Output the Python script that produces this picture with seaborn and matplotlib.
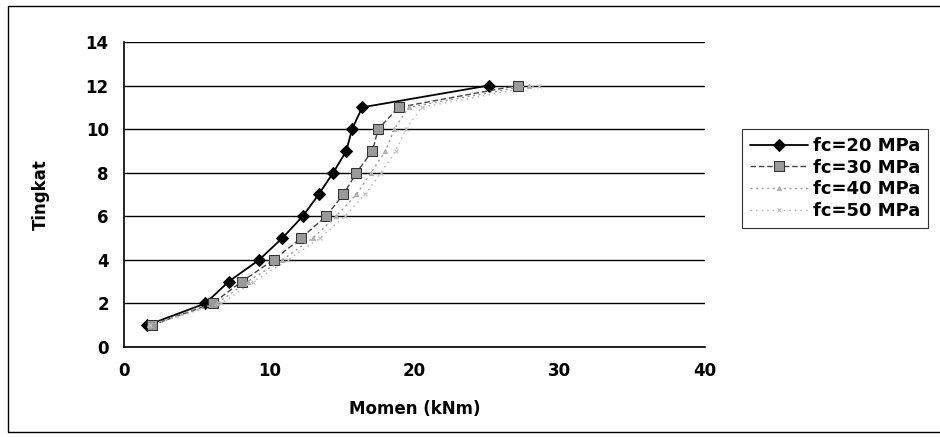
import matplotlib
matplotlib.use("Agg")
import matplotlib.pyplot as plt
import seaborn as sns
import pandas as pd
from matplotlib.patches import Rectangle

# ---- data ----
levels = [1, 2, 3, 4, 5, 6, 7, 8, 9, 10, 11, 12]
fc20 = [1.6, 5.6, 7.2, 9.3, 10.9, 12.3, 13.4, 14.4, 15.3, 15.7, 16.4, 25.1]
fc30 = [1.9, 6.1, 8.1, 10.3, 12.2, 13.9, 15.1, 16.0, 17.1, 17.5, 18.9, 27.1]
fc40 = [1.7, 6.4, 8.5, 10.9, 13.0, 14.6, 16.0, 17.0, 18.0, 18.6, 19.6, 27.9]
fc50 = [1.8, 6.7, 8.9, 11.3, 13.5, 15.2, 16.6, 17.7, 18.7, 19.4, 20.5, 28.6]
series_names = ["fc=20 MPa", "fc=30 MPa", "fc=40 MPa", "fc=50 MPa"]
x_ticks = [0, 10, 20, 30, 40]
y_ticks = [0, 2, 4, 6, 8, 10, 12, 14]

frames = []
for name, vals in zip(series_names, [fc20, fc30, fc40, fc50]):
    frames.append(pd.DataFrame({"Momen": vals, "Tingkat": levels, "Seri": name}))
df = pd.concat(frames, ignore_index=True)

sns.set_theme(style="white")
plt.rcParams["font.family"] = ["DejaVu Sans"]
plt.rcParams["text.color"] = "black"
plt.rcParams["axes.labelcolor"] = "black"
plt.rcParams["xtick.color"] = "black"
plt.rcParams["ytick.color"] = "black"

fig = plt.figure(figsize=(9.40, 4.37), dpi=100)
ax = fig.add_axes([0.132, 0.206, 0.618, 0.698])

styles = {
    "fc=20 MPa": dict(color="black", ls="-", lw=1.3, marker="D", ms=6,
                      mfc="black", mec="black"),
    "fc=30 MPa": dict(color="#444444", ls=(0, (4, 2)), lw=1.0, marker="s", ms=7,
                      mfc="#9a9a9a", mec="#333333"),
    "fc=40 MPa": dict(color="#9a9a9a", ls=(0, (1.5, 2.5)), lw=1.0, marker="^", ms=3,
                      mfc="#b0b0b0", mec="#b0b0b0"),
    "fc=50 MPa": dict(color="#b0b0b0", ls=(0, (1, 3)), lw=1.0, marker="x", ms=3,
                      mfc="#c0c0c0", mec="#c0c0c0"),
}

for name in series_names:
    st = styles[name]
    sub = df[df["Seri"] == name]
    sns.lineplot(data=sub, x="Momen", y="Tingkat", ax=ax, sort=False,
                 estimator=None, label=name, color=st["color"],
                 linestyle=st["ls"], linewidth=st["lw"], marker=st["marker"],
                 markersize=st["ms"], markerfacecolor=st["mfc"],
                 markeredgecolor=st["mec"], zorder=3)

ax.set_xlim(0, 40)
ax.set_ylim(0, 14)
ax.set_xticks(x_ticks)
ax.set_yticks(y_ticks)
ax.yaxis.grid(True, color="black", linewidth=1.0)
ax.xaxis.grid(False)
ax.set_axisbelow(True)
for s in ["top", "right"]:
    ax.spines[s].set_visible(False)
for s in ["left", "bottom"]:
    ax.spines[s].set_visible(True)
    ax.spines[s].set_color("black")
    ax.spines[s].set_linewidth(1.2)
ax.tick_params(axis="both", direction="inout", length=6, width=1, color="black",
               labelcolor="black", labelsize=12, pad=8)
for lab in ax.get_xticklabels() + ax.get_yticklabels():
    lab.set_fontweight("bold")

ax.set_xlabel("Momen (kNm)", fontsize=12, fontweight="bold", labelpad=14,
              color="black")
ax.set_ylabel("Tingkat", fontsize=12, fontweight="bold", labelpad=26,
              color="black")

leg = ax.legend(loc="upper left", bbox_to_anchor=(0.789, 0.705),
                bbox_transform=fig.transFigure, frameon=True, fancybox=False,
                shadow=False, fontsize=13, handlelength=3.2,
                handletextpad=0.3, labelspacing=0.2, borderpad=0.45,
                borderaxespad=0)
leg.get_frame().set_edgecolor("black")
leg.get_frame().set_linewidth(0.8)
for t in leg.get_texts():
    t.set_fontweight("bold")
    t.set_color("black")

fig.patches.append(Rectangle((0.008, 0.012), 1.2, 0.975,
                             transform=fig.transFigure, fill=False,
                             edgecolor="black", linewidth=1.0))

fig.savefig("out.png", dpi=100)
